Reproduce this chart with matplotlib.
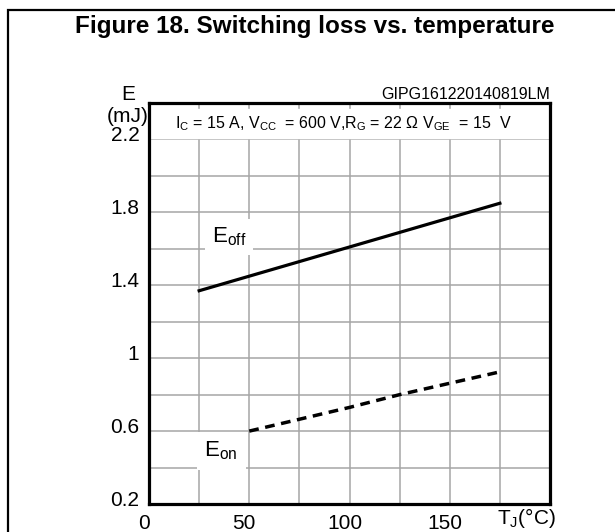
import matplotlib
matplotlib.use("Agg")
from matplotlib import pyplot as plt
from matplotlib import patches, transforms

plt.rcParams['font.family'] = ['Liberation Sans', 'DejaVu Sans']
plt.rcParams['mathtext.fontset'] = 'custom'
plt.rcParams['mathtext.rm'] = 'Liberation Sans'

# data
tj_off = [25, 100, 175]
e_off = [1.37, 1.61, 1.85]
tj_on = [50, 100, 125, 175]
e_on = [0.60, 0.73, 0.80, 0.925]

x_ticks = [0, 25, 50, 75, 100, 125, 150, 175, 200]
x_labels = ['0', '', '50', '', '100', '', '150', '', '']
y_ticks = [0.2, 0.4, 0.6, 0.8, 1.0, 1.2, 1.4, 1.6, 1.8, 2.0, 2.2, 2.4]
y_labels = ['0.2', '', '0.6', '', '1', '', '1.4', '', '1.8', '', '2.2', '']

fig = plt.figure(figsize=(6.15, 5.32), dpi=100)
ax = fig.add_axes([0.2423, 0.0526, 0.652, 0.7538])

ax.plot(tj_off, e_off, color='black', linewidth=2.3, zorder=3)
ax.plot(tj_on, e_on, color='black', linewidth=2.5, dashes=(2.8, 1.9), zorder=3)

ax.set_xlim(0, 200)
ax.set_ylim(0.2, 2.4)
ax.set_xticks(x_ticks)
ax.set_xticklabels(x_labels)
ax.set_yticks(y_ticks)
ax.set_yticklabels(y_labels)
ax.tick_params(length=0, labelsize=15, pad=7)
ax.set_axisbelow(True)
ax.grid(True, color='#a6a6a6', linewidth=1.1)
for s in ax.spines.values():
    s.set_linewidth(2.3)

# nudge tick labels like the original
off = transforms.ScaledTranslation(0, 6 / 100, fig.dpi_scale_trans)
for lab in ax.get_yticklabels():
    lab.set_transform(lab.get_transform() + off)
offx = transforms.ScaledTranslation(-5 / 100, 0, fig.dpi_scale_trans)
for lab in ax.get_xticklabels():
    lab.set_transform(lab.get_transform() + offx)

# white header band with test conditions
ax.axhspan(2.21, 2.365, color='white', zorder=1)
ax.text(97, 2.285,
        r'I$\mathregular{_C}$ = 15 A, V$\mathregular{_{CC}}$  = 600 V,R$\mathregular{_G}$ = 22 Ω V$\mathregular{_{GE}}$  = 15  V',
        fontsize=11.5, ha='center', va='center', zorder=2)

ax.text(40, 1.665, r'E$\mathregular{_{off}}$', fontsize=16, ha='center', va='center', zorder=2,
        bbox=dict(facecolor='white', edgecolor='none', boxstyle='square,pad=0.3'))
ax.text(36, 0.49, r'E$\mathregular{_{on}}$', fontsize=16, ha='center', va='center', zorder=2,
        bbox=dict(facecolor='white', edgecolor='none', boxstyle='square,pad=0.35'))

ax.text(-0.052, 1.02, 'E', transform=ax.transAxes, fontsize=15, ha='center', va='center')
ax.text(-0.052, 0.967, '(mJ)', transform=ax.transAxes, fontsize=15, ha='center', va='center')
ax.text(1.0, 1.02, 'GIPG161220140819LM', transform=ax.transAxes, fontsize=11.5,
        ha='right', va='center')
ax.text(0.94, -0.035, r'T$\mathregular{_J}$(°C)', transform=ax.transAxes, fontsize=15,
        ha='center', va='center')

fig.text(0.511, 0.950, 'Figure 18. Switching loss vs. temperature', fontsize=17.5,
         fontweight='bold', ha='center', va='center')

# outer frame (open to the right and bottom)
frame = patches.Rectangle((8 / 615, -0.1), 1.2, 1.1 - 10 / 532, transform=fig.transFigure,
                          fill=False, edgecolor='black', linewidth=1.6, clip_on=False)
fig.patches.append(frame)

fig.savefig('out.png', dpi=100)
